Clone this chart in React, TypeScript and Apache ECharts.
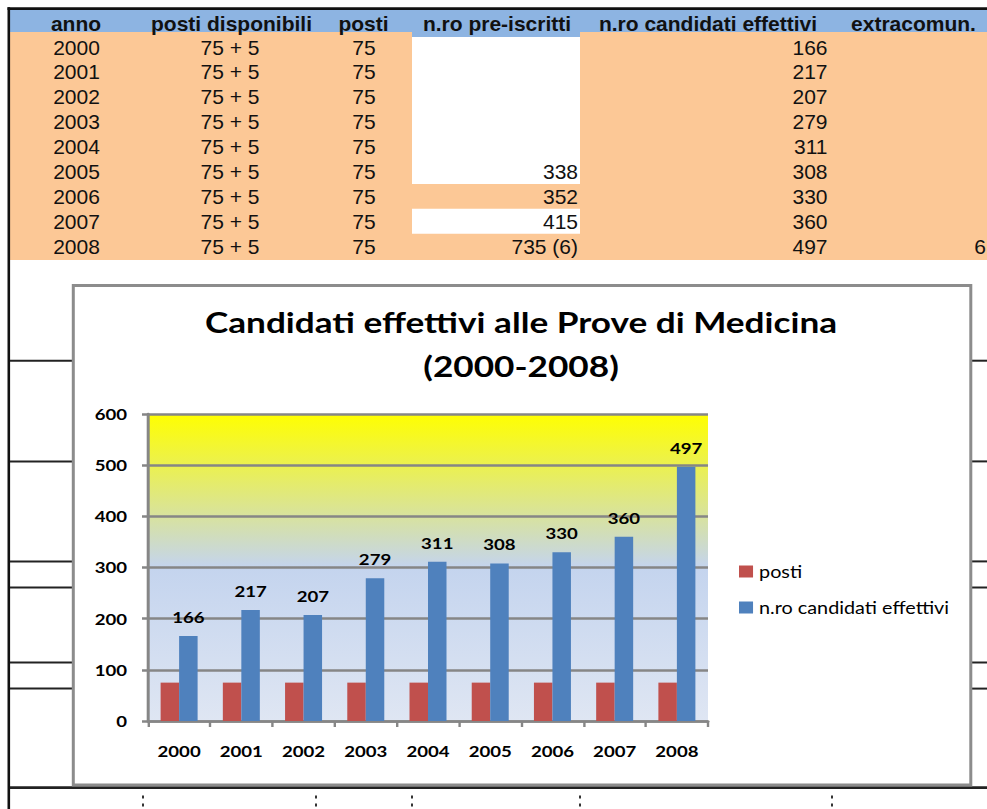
import React, { useEffect, useRef } from 'react';
import * as echarts from 'echarts';

// ---------- data ----------
const tableHeaders = ['anno', 'posti disponibili', 'posti', 'n.ro pre-iscritti', 'n.ro candidati effettivi', 'extracomun.'];
const years = ['2000', '2001', '2002', '2003', '2004', '2005', '2006', '2007', '2008'];
const postiDisponibili = ['75 + 5', '75 + 5', '75 + 5', '75 + 5', '75 + 5', '75 + 5', '75 + 5', '75 + 5', '75 + 5'];
const posti = [75, 75, 75, 75, 75, 75, 75, 75, 75];
const preIscritti = ['', '', '', '', '', '338', '352', '415', '735 (6)'];
const candidati = [166, 217, 207, 279, 311, 308, 330, 360, 497];
const extracomun = ['', '', '', '', '', '', '', '', '6'];
const seriesNames = ['posti', 'n.ro candidati effettivi'];
const chartTitle = 'Candidati effettivi alle Prove di Medicina\n(2000-2008)';

// ---------- layout / style ----------
const preCellOrange = [false, false, false, false, false, false, true, false, true];
const ORANGE = '#FCC896';
const BLUE_HEAD = '#8DB4E2';
const TFONT = '"Liberation Sans", Arial, sans-serif';
const CFONT = 'Lato, "Open Sans", sans-serif';
const ROW0 = 47;
const ROW_H = 24.9;
const S = 1.2; // the embedded chart picture is stretched horizontally
const CH_LEFT = 72;
const CH_TOP = 282;
const CH_W = 898;
const CH_H = 506;

function txt(text: string, x: number, y: number, align: string, bold: boolean, size = 21) {
  return {
    type: 'text',
    x,
    y,
    style: {
      text,
      fill: '#111',
      fontFamily: TFONT,
      fontSize: size,
      fontWeight: bold ? 'bold' : 'normal',
      align,
      verticalAlign: 'middle',
      textAlign: align,
      textVerticalAlign: 'middle',
    },
  };
}

function rect(x: number, y: number, w: number, h: number, fill: string) {
  return { type: 'rect', shape: { x, y, width: w, height: h }, style: { fill } };
}

function buildPageOption() {
  const el: any[] = [];
  // header + cell backgrounds
  el.push(rect(10, 10, 977, 27, BLUE_HEAD));
  el.push(rect(10, 32, 402, 228, ORANGE));
  el.push(rect(580, 32, 407, 228, ORANGE));
  years.forEach((_, i) => {
    if (preCellOrange[i]) {
      const top = ROW0 + ROW_H * i - ROW_H / 2;
      const h = i === years.length - 1 ? 260 - top : ROW_H;
      el.push(rect(412, top, 168, h, ORANGE));
    }
  });
  // borders
  el.push(rect(7.5, 7.3, 980, 2.7, '#111'));
  el.push(rect(7.5, 7.3, 2.6, 802, '#111'));
  // header texts
  const headX = [76, 231.5, 363.5, 497, 708, 913.5];
  tableHeaders.forEach((h, k) => el.push(txt(h, headX[k], 23, 'center', true)));
  // body texts
  years.forEach((y, i) => {
    const cy = ROW0 + ROW_H * i;
    el.push(txt(y, 76.5, cy, 'center', false));
    el.push(txt(postiDisponibili[i], 230, cy, 'center', false));
    el.push(txt(String(posti[i]), 364, cy, 'center', false));
    if (preIscritti[i]) el.push(txt(preIscritti[i], 578, cy, 'right', false));
    el.push(txt(String(candidati[i]), 827.5, cy, 'right', false));
    if (extracomun[i]) el.push(txt(extracomun[i], 986, cy, 'right', false));
  });
  // sheet lines beside the chart
  const sideY = [360.7, 461.4, 561.4, 587.5, 662.5, 688.6];
  sideY.forEach((y) => {
    el.push(rect(10, y - 1, 63, 2, '#222'));
    el.push(rect(971, y - 1, 16, 2, '#222'));
  });
  el.push(rect(10, 786.3, 977, 2.6, '#222'));
  // chart frame
  el.push({
    type: 'rect',
    shape: { x: 73.3, y: 285.5, width: 897.5, height: 499.5 },
    style: { fill: '#fff', stroke: '#8C8C8C', lineWidth: 3 },
  });
  // little marks of the next row
  [143, 316, 412, 580, 832].forEach((x) => {
    el.push(rect(x - 1, 795.5, 2, 3, '#333'));
    el.push(rect(x - 1, 803.5, 2, 3, '#333'));
  });
  return { animation: false, backgroundColor: '#fff', graphic: { elements: el } };
}

function buildChartOption() {
  const labelStyle = { fontFamily: CFONT, fontWeight: 'bold', fontSize: 15.5, color: '#000' };
  const gray = '#868686';
  return {
    animation: false,
    backgroundColor: 'transparent',
    title: {
      text: chartTitle,
      left: 'center',
      top: 18,
      padding: 0,
      textStyle: { fontFamily: CFONT, fontWeight: 'bold', fontSize: 29.3, lineHeight: 44, color: '#000' },
    },
    legend: {
      orient: 'vertical',
      left: (739 - CH_LEFT) / S,
      top: 281,
      padding: 0,
      itemWidth: 11.7,
      itemHeight: 12,
      itemGap: 19,
      icon: 'rect',
      data: seriesNames,
      textStyle: { fontFamily: CFONT, fontSize: 16.5, lineHeight: 16, color: '#000' },
    },
    grid: {
      left: (148 - CH_LEFT) / S,
      top: 414 - CH_TOP,
      width: 560 / S,
      height: 307,
      show: true,
      borderWidth: 0,
      backgroundColor: {
        type: 'linear',
        x: 0,
        y: 0,
        x2: 0,
        y2: 1,
        colorStops: [
          { offset: 0, color: '#FFFF00' },
          { offset: 0.5, color: '#C4D4EE' },
          { offset: 1, color: '#DFE6F3' },
        ],
      },
    },
    xAxis: {
      type: 'category',
      data: years,
      axisLine: { lineStyle: { color: gray, width: 2.5 } },
      axisTick: { show: true, length: 6, interval: 0, lineStyle: { color: gray, width: 2 } },
      axisLabel: { ...labelStyle, margin: 22, interval: 0 },
      splitLine: { show: false },
    },
    yAxis: {
      type: 'value',
      min: 0,
      max: 600,
      interval: 100,
      axisLine: { show: true, lineStyle: { color: gray, width: 2.5 } },
      axisTick: { show: true, length: 5, lineStyle: { color: gray, width: 2.5 } },
      axisLabel: { ...labelStyle, margin: 17.5 },
      splitLine: { show: true, lineStyle: { color: gray, width: 2.5 } },
    },
    series: [
      {
        name: seriesNames[0],
        type: 'bar',
        data: posti,
        barWidth: 18.5 / S,
        barGap: '0%',
        itemStyle: { color: '#C0504D' },
      },
      {
        name: seriesNames[1],
        type: 'bar',
        data: candidati,
        barWidth: 18.5 / S,
        itemStyle: { color: '#4F81BD' },
        label: { show: true, position: 'top', distance: 11, ...labelStyle },
      },
    ],
  };
}

export default function App() {
  const pageRef = useRef<HTMLDivElement>(null);
  const chartRef = useRef<HTMLDivElement>(null);
  useEffect(() => {
    const page = echarts.init(pageRef.current!, null, { renderer: 'svg', width: 987, height: 809 });
    page.setOption(buildPageOption() as any);
    const chart = echarts.init(chartRef.current!, null, { renderer: 'svg', width: CH_W / S, height: CH_H });
    chart.setOption(buildChartOption() as any);
    return () => {
      page.dispose();
      chart.dispose();
    };
  }, []);
  return (
    <div style={{ position: 'fixed', left: 0, top: 0, width: 987, height: 809, background: '#fff', overflow: 'hidden' }}>
      <div ref={pageRef} style={{ position: 'absolute', left: 0, top: 0, width: 987, height: 809 }} />
      <div
        ref={chartRef}
        style={{
          position: 'absolute',
          left: CH_LEFT,
          top: CH_TOP,
          width: CH_W / S,
          height: CH_H,
          transform: `scaleX(${S})`,
          transformOrigin: '0 0',
        }}
      />
    </div>
  );
}
